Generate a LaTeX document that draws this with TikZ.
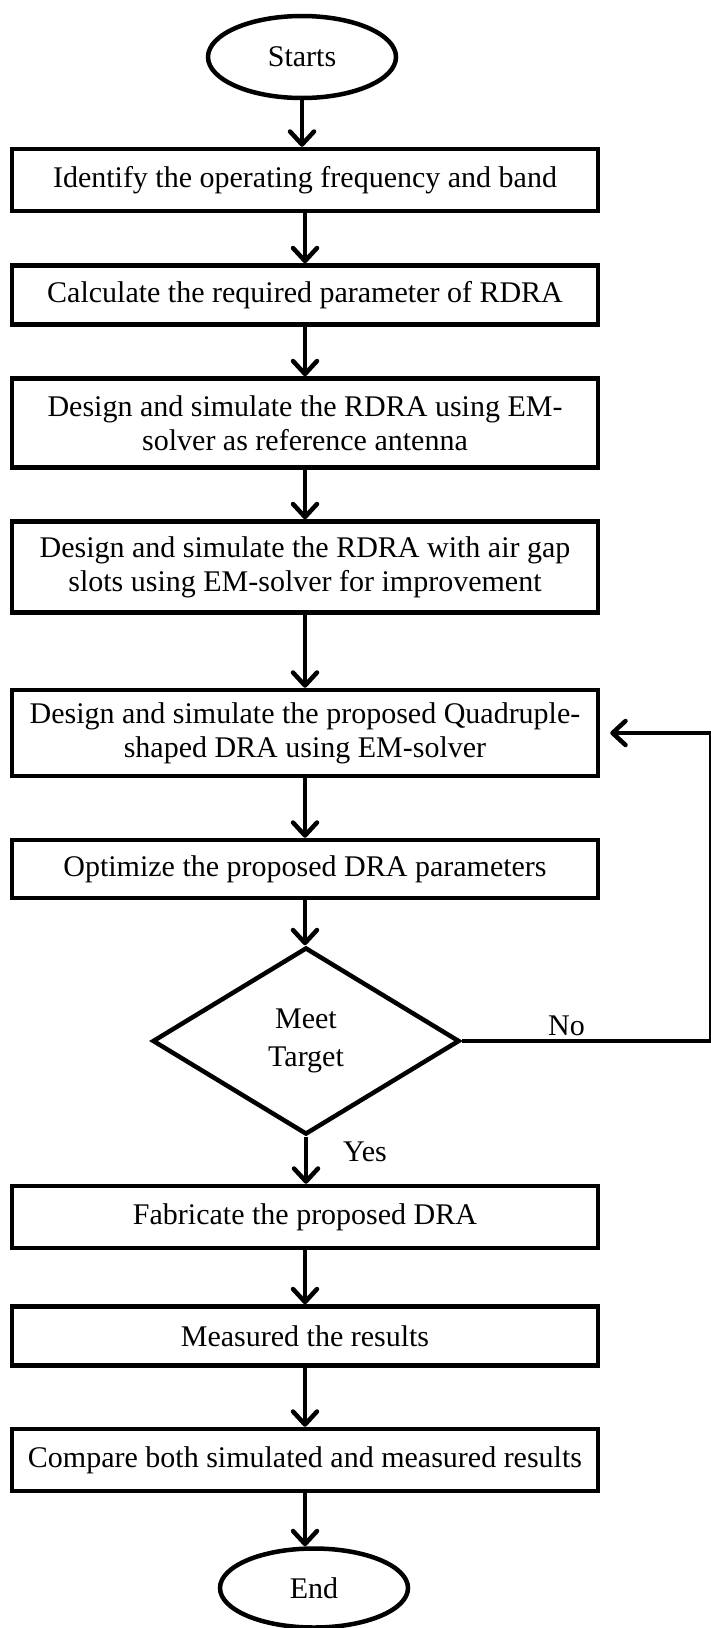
\documentclass[tikz,border=0pt]{standalone}
\usepackage{fontspec}
\setmainfont{Liberation Serif}
\usetikzlibrary{shapes.geometric,arrows.meta}
\newcommand\fsz{\fontsize{30}{34}\selectfont}
\tikzset{
  box/.style={draw,line width=4.5pt,minimum width=586pt,inner sep=0pt,align=center},
  term/.style={ellipse,draw,line width=4.5pt,minimum width=188pt,minimum height=82pt,inner sep=0pt},
  test/.style={diamond,draw,line width=4.5pt,minimum width=307pt,minimum height=187pt,inner sep=0pt,align=center,
    font=\fontsize{30}{38}\selectfont},
  arr/.style={line width=4.5pt,-{Straight Barb[length=13pt,width=24pt,round]}}
}
\begin{document}
\begin{tikzpicture}[x=1pt,y=-1pt,font=\fsz]
  \useasboundingbox(0,0)rectangle(710,1628);
  \node[term](st)at(302,57){Starts};
  \foreach \n/\y/\h/\t in{b1/180/62/{Identify the operating frequency and band},
    b2/295/59/{Calculate the required parameter of RDRA},
    b3/423/89/{Design and simulate the RDRA using EM-\\solver as reference antenna},
    b4/567/91/{Design and simulate the RDRA with air gap\\slots using EM-solver for improvement},
    b5/733/86/{Design and simulate the proposed Quadruple-\\shaped DRA using EM-solver},
    b6/869/58/{Optimize the proposed DRA parameters},
    b7/1217/62/{Fabricate the proposed DRA},
    b8/1336/59/{Measured the results},
    b9/1460/62/{Compare both simulated and measured results}}{
    \node[box,minimum height=\h pt](\n)at(305,\y){\t};
  }
  \node[test](dia)at(306,1041){Meet\\Target};
  \node[term,minimum height=79pt](en)at(314,1588){End};
  \foreach \a/\b in{st/b1,b1/b2,b2/b3,b3/b4,b4/b5,b5/b6,b6/dia,dia/b7,b7/b8,b8/b9,b9/en}
    \draw[arr](\a.south)--(\a.south|-\b.north);
  % back to the design step
  \coordinate(fb)at(711,1041);
  \draw[arr](dia.east)--node[above,pos=.42](no){No}(fb)|-([xshift=10pt]b5.east);
  \node(yes)at(365,1152){Yes};
\end{tikzpicture}
\end{document}
